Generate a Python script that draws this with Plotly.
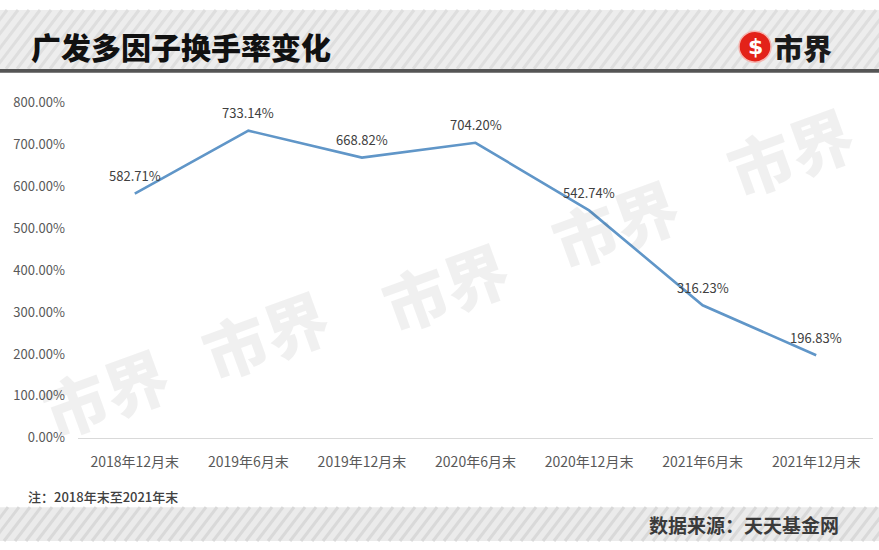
import plotly.graph_objects as go

categories = ["2018年12月末", "2019年6月末", "2019年12月末", "2020年6月末",
              "2020年12月末", "2021年6月末", "2021年12月末"]
turnover = [582.71, 733.14, 668.82, 704.20, 542.74, 316.23, 196.83]
y_ticks = [0, 100, 200, 300, 400, 500, 600, 700, 800]

W, H = 879, 550
def X(p):
    return p / W
def Y(p):
    return 1 - p / H

FONT = "Noto Sans CJK SC"

fig = go.Figure()
fig.add_trace(go.Scatter(
    x=categories, y=turnover, mode="lines",
    line=dict(color="#6096c8", width=2.6),
    hoverinfo="skip", showlegend=False,
))

shapes = []
# header background with diagonal stripes
shapes.append(dict(type="rect", xref="paper", yref="paper", x0=X(0), x1=X(W), y0=Y(61), y1=Y(0),
                   fillcolor="#ededed", line_width=0, layer="below"))
for xs in range(-60, W + 20, 11):
    shapes.append(dict(type="line", xref="paper", yref="paper",
                       x0=X(xs), y0=Y(61), x1=X(xs + 45), y1=Y(0),
                       line=dict(color="#dedede", width=3), layer="below"))
shapes.append(dict(type="rect", xref="paper", yref="paper", x0=X(0), x1=X(W), y0=Y(65), y1=Y(61),
                   fillcolor="#555555", line_width=0))
# footer background with stripes
shapes.append(dict(type="rect", xref="paper", yref="paper", x0=X(0), x1=X(W), y0=Y(H), y1=Y(515),
                   fillcolor="#ebebeb", line_width=0, layer="below"))
for xs in range(-40, W + 20, 11):
    shapes.append(dict(type="line", xref="paper", yref="paper",
                       x0=X(xs), y0=Y(H), x1=X(xs + 26), y1=Y(515),
                       line=dict(color="#d9d9d9", width=3), layer="below"))
# logo circle
shapes.append(dict(type="circle", xref="paper", yref="paper",
                   x0=X(739), x1=X(771), y0=Y(54), y1=Y(22),
                   fillcolor="#e32219", line=dict(color="#f5b5b0", width=1.5)))

annotations = []
# data labels
for c, v in zip(categories, turnover):
    annotations.append(dict(x=c, y=v, xref="x", yref="y", text=f"{v:.2f}%",
                            showarrow=False, yshift=18,
                            font=dict(family=FONT, size=13, color="#404040")))
# title
annotations.append(dict(x=X(29), y=Y(37), xref="paper", yref="paper", xanchor="left", yanchor="middle",
                        text="广发多因子换手率变化", showarrow=False,
                        font=dict(family=FONT, size=30, color="#111111", weight=900)))
# logo
annotations.append(dict(x=X(755), y=Y(38), xref="paper", yref="paper", xanchor="center", yanchor="middle",
                        text="<b>$</b>", showarrow=False,
                        font=dict(family="DejaVu Sans", size=22, color="white")))
annotations.append(dict(x=X(772), y=Y(38), xref="paper", yref="paper", xanchor="left", yanchor="middle",
                        text="市界", showarrow=False,
                        font=dict(family=FONT, size=29, color="#1a1a1a", weight=900)))
# note & source
annotations.append(dict(x=X(26), y=Y(504), xref="paper", yref="paper", xanchor="left", yanchor="middle",
                        text="注：2018年末至2021年末", showarrow=False,
                        font=dict(family=FONT, size=13, color="#404040", weight=500)))
annotations.append(dict(x=X(841), y=Y(533), xref="paper", yref="paper", xanchor="right", yanchor="middle",
                        text="数据来源：天天基金网", showarrow=False,
                        font=dict(family=FONT, size=19, color="#3a3a3a", weight=700)))
# watermarks
for cx, cy in [(105, 395), (265, 335), (445, 285), (615, 220), (790, 145)]:
    annotations.append(dict(x=X(cx), y=Y(cy), xref="paper", yref="paper", xanchor="center", yanchor="middle",
                            text="市界", showarrow=False, textangle=-20,
                            font=dict(family=FONT, size=64, color="rgba(0,0,0,0.06)", weight=900)))

fig.update_layout(
    width=W, height=H,
    margin=dict(l=0, r=0, t=0, b=0),
    paper_bgcolor="white", plot_bgcolor="white",
    shapes=shapes, annotations=annotations,
    xaxis=dict(domain=[X(78), X(873)], type="category", range=[-0.5, 6.5],
               showgrid=False, zeroline=False, showline=True, linecolor="#d9d9d9", linewidth=1,
               ticks="", ticklabelstandoff=12,
               tickfont=dict(family=FONT, size=14, color="#595959")),
    yaxis=dict(domain=[1 - 443 / H, 1 - 96 / H], range=[0, 800],
               tickvals=y_ticks, ticktext=[f"{t:.2f}%" for t in y_ticks],
               showgrid=False, zeroline=False, showline=False, ticks="",
               ticklabelstandoff=12,
               tickfont=dict(family=FONT, size=13, color="#595959")),
)

fig.write_html("out.html",
               config={"displayModeBar": False},
               post_script="document.body.style.margin='0';document.body.style.overflow='hidden';")
